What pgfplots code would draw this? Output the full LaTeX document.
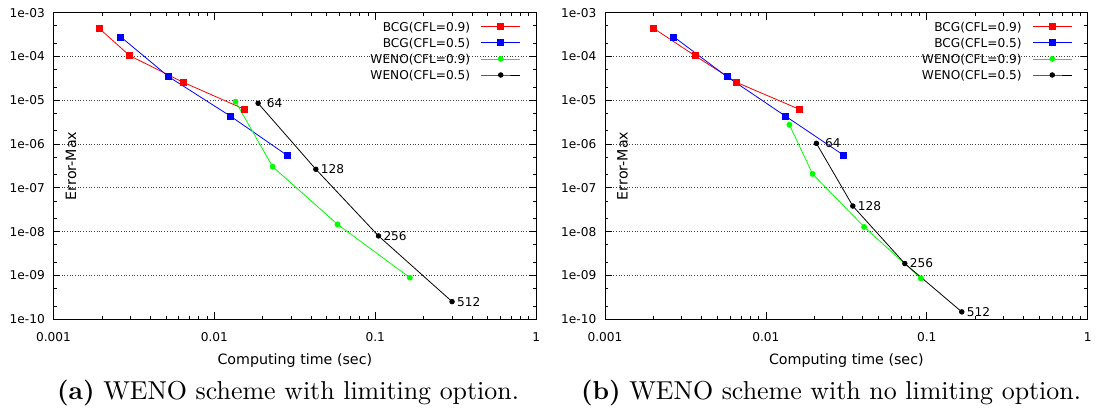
\documentclass[border=0pt]{standalone}
\usepackage{fontspec}
\usepackage{pgfplots}
\pgfplotsset{compat=1.18}
\newfontfamily\dejavu{DejaVu Sans}
\newfontfamily\capfont{lmroman10-regular.otf}[BoldFont=lmroman10-bold.otf]
\definecolor{gpgreen}{RGB}{0,255,0}
\definecolor{gpred}{RGB}{255,0,0}
\definecolor{gpblue}{RGB}{0,0,255}

\pgfplotsset{
  gpaxis/.style={
    scale only axis, width=482.7bp, height=306.5bp,
    anchor=south west,
    xmin=1e-3, xmax=1, ymin=1e-10, ymax=1e-3,
    xtick={1e-3,1e-2,1e-1,1}, xticklabels={0.001,0.01,0.1,1},
    ytick={1e-10,1e-9,1e-8,1e-7,1e-6,1e-5,1e-4,1e-3},
    yticklabels={1e-10,1e-09,1e-08,1e-07,1e-06,1e-05,1e-04,1e-03},
    minor xtick={2e-3,3e-3,4e-3,5e-3,6e-3,7e-3,8e-3,9e-3,2e-2,3e-2,4e-2,5e-2,6e-2,7e-2,8e-2,9e-2,2e-1,3e-1,4e-1,5e-1,6e-1,7e-1,8e-1,9e-1},
    minor ytick={2e-10,5e-10,2e-9,5e-9,2e-8,5e-8,2e-7,5e-7,2e-6,5e-6,2e-5,5e-5,2e-4,5e-4},
    tick align=inside, major tick length=7bp, minor tick length=3.5bp,
    every tick/.style={black, line width=0.8bp},
    axis line style={line width=1bp},
    ymajorgrids,
    major grid style={black!75, line width=0.8bp, dash pattern=on 0.9bp off 1.8bp},
    tick label style={font=\dejavu\fontsize{12.2}{14}\selectfont},
    xticklabel style={anchor=north, inner sep=0pt, yshift=-12.8bp},
    yticklabel style={anchor=east, inner sep=0pt, xshift=-8.5bp},
    xlabel={Computing time (sec)},
    ylabel={Error-Max},
    label style={font=\dejavu\fontsize{14.3}{16}\selectfont, inner sep=0pt},
    xlabel style={at={(axis description cs:0.5,0)}, anchor=base, yshift=-45.3bp},
    ylabel style={at={(axis description cs:0,0.5)}, anchor=center, yshift=-17.5bp},
    legend plot pos=right,
    legend cell align=right,
    legend image code/.code={\draw[mark repeat=2,mark phase=2,##1] plot coordinates {(0bp,0bp) (19.25bp,0bp) (38.5bp,0bp)};},
    legend style={draw=none, fill=none, at={(axis description cs:1,1)}, anchor=north east,
      xshift=-15.8bp, yshift=-9.35bp, inner sep=0pt, outer sep=0pt,
      font=\dejavu\fontsize{12.2}{14}\selectfont, row sep=6.8bp, column sep=11bp,
      nodes={inner sep=0pt, text height=9bp, text depth=0.3bp}},
    lab/.style={nodes near coords, point meta=explicit symbolic,
      nodes near coords style={anchor=west, inner sep=0pt, xshift=4.6bp, text=black,
        font=\dejavu\fontsize{12.2}{14}\selectfont}},
    sred/.style={color=gpred, line width=0.8bp, mark=square*, mark size=3bp, mark options={solid, fill=gpred, draw=gpred}},
    sblue/.style={color=gpblue, line width=0.8bp, mark=square*, mark size=3bp, mark options={solid, fill=gpblue, draw=gpblue}},
    sgreen/.style={color=gpgreen, line width=0.8bp, mark=*, mark size=2.5bp, mark options={solid, fill=gpgreen, draw=gpgreen}},
    sblack/.style={color=black, line width=0.8bp, mark=*, mark size=2.3bp, mark options={solid, fill=black, draw=black}},
  }
}

\begin{document}
\begin{tikzpicture}
\useasboundingbox (0,0) rectangle (1099bp,417bp);
\begin{loglogaxis}[gpaxis, at={(53.5bp,97.8bp)}]
\addplot[sred] coordinates {(0.00192,4.4e-4) (0.00298,1.04e-4) (0.00642,2.56e-5) (0.01536,6.24e-6)};
\addlegendentry{BCG(CFL=0.9)}
\addplot[sblue] coordinates {(0.00262,2.8e-4) (0.00519,3.46e-5) (0.0126,4.33e-6) (0.0283,5.53e-7)};
\addlegendentry{BCG(CFL=0.5)}
\addplot[sgreen] coordinates {(0.01353,9.3e-6) (0.0230,3.05e-7) (0.0582,1.47e-8) (0.164,8.87e-10)};
\addlegendentry{WENO(CFL=0.9)}
\addplot[sblack, lab] coordinates {(0.0187,8.55e-6) [\kern3.8bp 64] (0.0427,2.66e-7) [128] (0.1047,7.98e-9) [256] (0.300,2.52e-10) [512]};
\addlegendentry{WENO(CFL=0.5)}
\end{loglogaxis}
\begin{loglogaxis}[gpaxis, at={(605bp,97.8bp)}]
\addplot[sred] coordinates {(0.0020,4.42e-4) (0.00363,1.04e-4) (0.00656,2.57e-5) (0.0161,6.25e-6)};
\addlegendentry{BCG(CFL=0.9)}
\addplot[sblue] coordinates {(0.00268,2.8e-4) (0.00573,3.46e-5) (0.01324,4.33e-6) (0.0305,5.53e-7)};
\addlegendentry{BCG(CFL=0.5)}
\addplot[sgreen] coordinates {(0.014,2.76e-6) (0.0195,2.08e-7) (0.0408,1.28e-8) (0.0919,8.55e-10)};
\addlegendentry{WENO(CFL=0.9)}
\addplot[sblack, lab] coordinates {(0.0206,1.04e-6) [\kern3.8bp 64] (0.0347,3.84e-8) [128] (0.0730,1.87e-9) [256] (0.165,1.47e-10) [512]};
\addlegendentry{WENO(CFL=0.5)}
\end{loglogaxis}
\node[anchor=base, font=\capfont\fontsize{26}{30}\selectfont] at (288bp,18bp) {\textbf{(a)} WENO scheme with limiting option.};
\node[anchor=base, font=\capfont\fontsize{26}{30}\selectfont] at (831bp,18bp) {\textbf{(b)} WENO scheme with no limiting option.};
\end{tikzpicture}
\end{document}
